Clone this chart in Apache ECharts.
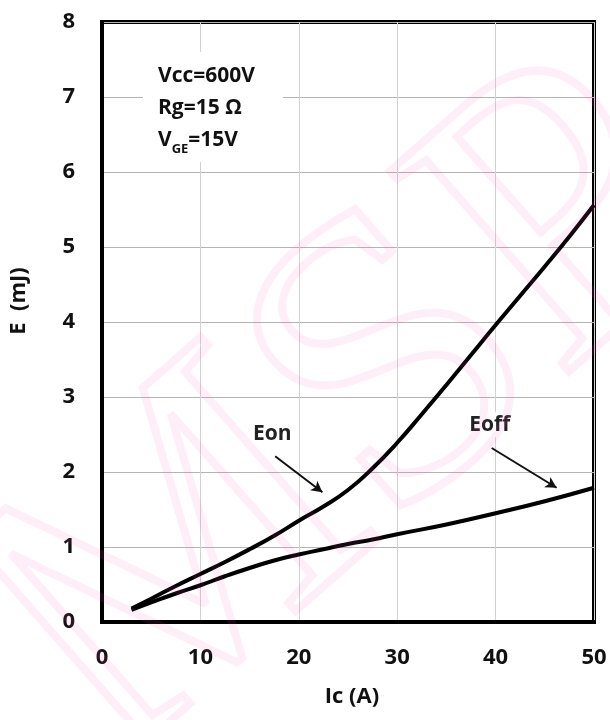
<!DOCTYPE html>
<html>
<head>
<meta charset="utf-8">
<style>html,body{margin:0;padding:0;background:#fff}#c{width:610px;height:720px}</style>
<script src="https://cdn.jsdelivr.net/npm/echarts@6/dist/echarts.min.js"></script>
</head>
<body>
<div id="c"></div>
<script>
const xTicks = [0, 10, 20, 30, 40, 50];
const yTicks = [0, 1, 2, 3, 4, 5, 6, 7, 8];
const icOn = [3, 5, 7.5, 10, 12.5, 15, 17.5, 20, 22.5, 25, 27.5, 30, 32.5, 35, 37.5, 40, 42.5, 45, 47.5, 50];
const eOn = [0.18, 0.31, 0.48, 0.64, 0.80, 0.97, 1.15, 1.35, 1.54, 1.76, 2.05, 2.39, 2.77, 3.16, 3.56, 3.96, 4.35, 4.74, 5.14, 5.56];
const icOff = [3, 5, 7.5, 10, 12.5, 15, 17.5, 20, 22.5, 25, 27.5, 30, 35, 40, 45, 50];
const eOff = [0.16, 0.26, 0.38, 0.49, 0.61, 0.72, 0.82, 0.90, 0.97, 1.04, 1.10, 1.17, 1.30, 1.45, 1.61, 1.79];
const conditions = ['Vcc=600V', 'Rg=15 Ω', 'V{sub|GE}=15V'];
const xName = 'Ic (A)';
const yName = 'E  (mJ)';

const FONT = '"Open Sans", sans-serif';
const chart = echarts.init(document.getElementById('c'), null, {renderer: 'canvas'});

const pair = (xs, ys) => xs.map((x, i) => [x, ys[i]]);
const labelStyle = {show: true, color: '#222', fontFamily: FONT, fontWeight: 'bold', fontSize: 21, backgroundColor: '#fff', padding: [2, 3], position: 'inside'};
const arrowLine = {color: '#111', width: 2, type: 'solid'};

chart.setOption({
  animation: false,
  backgroundColor: '#fff',
  grid: {left: 102, right: 16, top: 22, bottom: 98, show: true, borderColor: '#000', borderWidth: 4, backgroundColor: 'transparent'},
  xAxis: {
    type: 'value', min: xTicks[0], max: xTicks[xTicks.length - 1], interval: 10,
    axisLine: {show: true, lineStyle: {color: '#000', width: 4}},
    axisTick: {show: false},
    axisLabel: {color: '#111', fontFamily: FONT, fontWeight: 'bold', fontSize: 22, margin: 25},
    splitLine: {show: true, lineStyle: {color: '#d2d2d2', width: 1}}
  },
  yAxis: {
    type: 'value', min: yTicks[0], max: yTicks[yTicks.length - 1], interval: 1,
    axisLine: {show: true, lineStyle: {color: '#000', width: 4}},
    axisTick: {show: false},
    axisLabel: {color: '#111', fontFamily: FONT, fontWeight: 'bold', fontSize: 22, margin: 27},
    splitLine: {show: true, lineStyle: {color: '#b4b4b4', width: 1}}
  },
  series: [
    {
      name: 'Eon', type: 'line', data: pair(icOn, eOn), smooth: 0.5, showSymbol: false, symbol: 'none',
      lineStyle: {color: '#000', width: 4}, z: 5,
      markPoint: {symbol: 'rect', symbolSize: 0, silent: true, data: [{coord: [17.3, 2.51], value: 'Eon', label: Object.assign({}, labelStyle, {formatter: 'Eon'})}]},
      markLine: {silent: true, symbol: ['none', 'arrow'], symbolSize: [9, 11], label: {show: false}, lineStyle: arrowLine,
        data: [[{coord: [17.6, 2.21]}, {coord: [22.4, 1.73]}]]}
    },
    {
      name: 'Eoff', type: 'line', data: pair(icOff, eOff), smooth: 0.5, showSymbol: false, symbol: 'none',
      lineStyle: {color: '#000', width: 4}, z: 5,
      markPoint: {symbol: 'rect', symbolSize: 0, silent: true, data: [{coord: [39.4, 2.63], value: 'Eoff', label: Object.assign({}, labelStyle, {formatter: 'Eoff'})}]},
      markLine: {silent: true, symbol: ['none', 'arrow'], symbolSize: [9, 11], label: {show: false}, lineStyle: arrowLine,
        data: [[{coord: [39.6, 2.32]}, {coord: [46.2, 1.79]}]]}
    }
  ],
  graphic: [
    {type: 'rect', left: 143, top: 52, shape: {width: 140, height: 110}, style: {fill: '#fff'}, z: 3, silent: true},
    {type: 'text', left: 158, top: 60, z: 4, silent: true, style: {
      text: conditions.join('\n'), fill: '#111', font: 'bold 21px ' + FONT, lineHeight: 32,
      rich: {sub: {font: 'bold 13px ' + FONT, verticalAlign: 'bottom', padding: [9, 0, 0, 0]}}
    }},
    {type: 'text', x: 352, y: 697, z: 4, silent: true, style: {text: xName, fill: '#111', font: 'bold 22px ' + FONT, textAlign: 'center', textVerticalAlign: 'middle'}},
    {type: 'text', x: 19, y: 301, rotation: Math.PI / 2, z: 4, silent: true, style: {text: yName, fill: '#111', font: 'bold 22px ' + FONT, textAlign: 'center', textVerticalAlign: 'middle'}},
    {type: 'text', x: 350, y: 420, rotation: 0.72, z: 50, silent: true, style: {
      text: 'MSP', font: '410px "Liberation Serif", serif', textAlign: 'center', textVerticalAlign: 'middle',
      fill: 'rgba(0,0,0,0)', stroke: 'rgba(240,90,185,0.10)', lineWidth: 8
    }}
  ]
});
</script>
</body>
</html>
